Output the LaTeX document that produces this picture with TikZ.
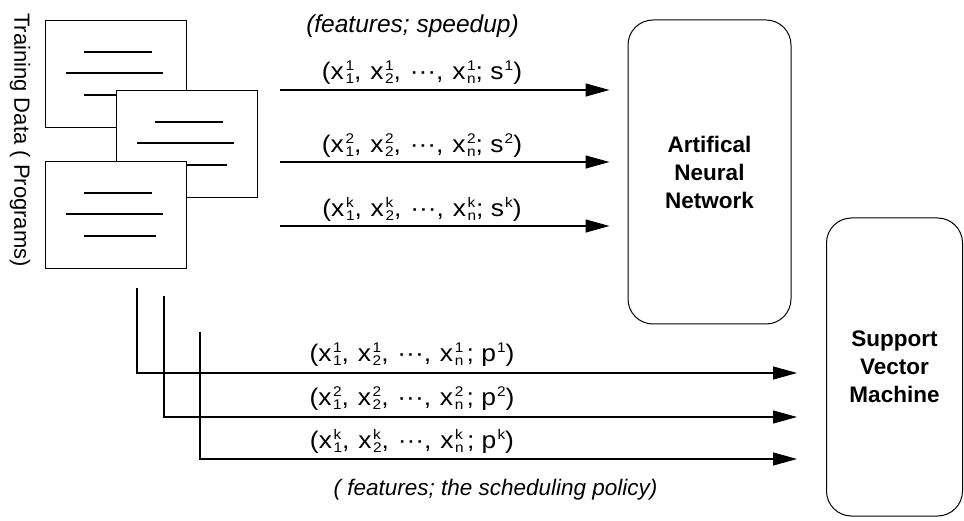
\documentclass[tikz,border=0pt]{standalone}
\usepackage{fontspec}
\setmainfont{Liberation Sans}
\usetikzlibrary{arrows.meta}
\newcommand\scr[1]{{\fontsize{14}{14}\selectfont #1}}
\newcommand\xv[2]{x\kern1.5pt\rlap{\raisebox{9.5pt}{\scr{#1}}}\raisebox{-3.5pt}{\scr{#2}}}
\newcommand\sv[2]{#1\kern1pt\raisebox{9.5pt}{\scr{#2}}}
\newcommand\dts{\textperiodcentered\textperiodcentered\textperiodcentered}
\newcommand\gp{\hspace{8pt}}
\begin{document}
\begin{tikzpicture}[x=1pt,y=-1pt,
  docbox/.style={draw, fill=white, line width=1.3pt, minimum width=141pt, minimum height=107pt, anchor=north west, inner sep=0pt},
  txtline/.style={line width=1.3pt},
  model/.style={draw, rounded corners=25pt, line width=1pt, font=\fontsize{22.5}{28}\selectfont\bfseries, align=center, inner sep=0pt},
  arr/.style={line width=1.3pt, -{Triangle[length=24pt,width=13pt]}},
  lbl/.style={font=\fontsize{24}{25}\selectfont, inner sep=1pt, anchor=south, xscale=1.1},
  note/.style={font=\fontsize{22.5}{24}\selectfont\itshape, inner sep=1pt}]
\useasboundingbox (0,0) rectangle (964,521);
% documents
\node[docbox] (d1) at (45,20) {};
\draw[txtline] ([shift={(39,32)}]d1.north west) -- ([shift={(107,32)}]d1.north west);
\draw[txtline] ([shift={(21,53)}]d1.north west) -- ([shift={(118,53)}]d1.north west);
\draw[txtline] ([shift={(39,75)}]d1.north west) -- ([shift={(111,75)}]d1.north west);
\node[docbox] (d2) at (116,90) {};
\draw[txtline] ([shift={(39,32)}]d2.north west) -- ([shift={(107,32)}]d2.north west);
\draw[txtline] ([shift={(21,53)}]d2.north west) -- ([shift={(118,53)}]d2.north west);
\draw[txtline] ([shift={(39,75)}]d2.north west) -- ([shift={(111,75)}]d2.north west);
\node[docbox] (d3) at (45,161) {};
\draw[txtline] ([shift={(39,32)}]d3.north west) -- ([shift={(107,32)}]d3.north west);
\draw[txtline] ([shift={(21,53)}]d3.north west) -- ([shift={(118,53)}]d3.north west);
\draw[txtline] ([shift={(39,75)}]d3.north west) -- ([shift={(111,75)}]d3.north west);
\node[rotate=-90, font=\fontsize{22}{26}\selectfont, inner sep=0pt] (td) at (20,140) {Training Data ( Programs)};
% models
\node[model, minimum width=163pt, minimum height=304pt] (ann) at (709.5,172) {Artifical\\Neural\\Network};
\node[model, minimum width=136pt, minimum height=298pt] (svm) at (894.5,367) {Support\\Vector\\Machine};
% top arrows
\coordinate (a1) at (280,90);
\coordinate (a2) at (280,162);
\coordinate (a3) at (280,226);
\draw[arr, shorten >=18pt] (a1) -- (a1 -| ann.west);
\draw[arr, shorten >=18pt] (a2) -- (a2 -| ann.west);
\draw[arr, shorten >=18pt] (a3) -- (a3 -| ann.west);
\node[note, font=\fontsize{24.5}{26}\selectfont\itshape] (n1) at (412.5,26) {(features; speedup)};
\node[lbl] (l1) at (422,86) {(\xv{1}{1},\gp\xv{1}{2},\gp\dts,\gp\xv{1}{n}; \sv{s}{1})};
\node[lbl] (l2) at (422,159) {(\xv{2}{1},\gp\xv{2}{2},\gp\dts,\gp\xv{2}{n}; \sv{s}{2})};
\node[lbl] (l3) at (422,223) {(\xv{k}{1},\gp\xv{k}{2},\gp\dts,\gp\xv{k}{n}; \sv{s}{k})};
% bottom arrows
\coordinate (b1s) at (137,288);
\coordinate (b2s) at (164,296);
\coordinate (b3s) at (200,332);
\coordinate (b1) at (137,373);
\coordinate (b2) at (164,417);
\coordinate (b3) at (200,459);
\draw[arr, shorten >=29pt] (b1s) -- (b1) -- (b1 -| svm.west);
\draw[arr, shorten >=29pt] (b2s) -- (b2) -- (b2 -| svm.west);
\draw[arr, shorten >=29pt] (b3s) -- (b3) -- (b3 -| svm.west);
\node[lbl] (m1) at (412,368) {(\xv{1}{1},\gp\xv{1}{2},\gp\dts,\gp\xv{1}{n}\kern3pt; \sv{p}{1})};
\node[lbl] (m2) at (412,412) {(\xv{2}{1},\gp\xv{2}{2},\gp\dts,\gp\xv{2}{n}\kern3pt; \sv{p}{2})};
\node[lbl] (m3) at (412,455) {(\xv{k}{1},\gp\xv{k}{2},\gp\dts,\gp\xv{k}{n}\kern3pt; \sv{p}{k})};
\node[note] (n2) at (495.5,490) {( features; the scheduling policy)};
\end{tikzpicture}
\end{document}
